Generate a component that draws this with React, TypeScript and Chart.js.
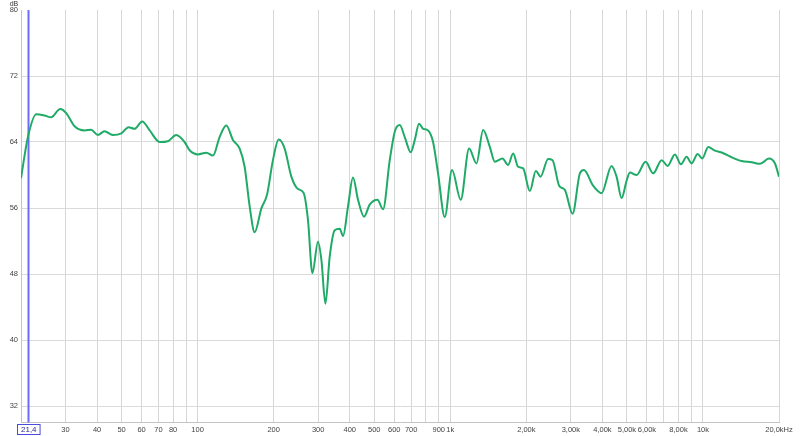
import React, { useEffect, useRef } from 'react';
import { Chart, registerables } from 'chart.js';

Chart.register(...registerables);

// Frequency (Hz) of each traced point
const freqs = [
  20, 21.3, 23.0, 24.8, 26.3, 28.6, 30.2, 32.6, 35.7, 37.9,
  40.3, 42.8, 46.2, 49.9, 53.3, 56.3, 60.4, 64.5, 70.7, 76.3,
  82.3, 88.8, 93.0, 100.3, 108.3, 115, 122.2, 129.9, 138, 146.7,
  153.5, 160.7, 168.2, 178.8, 188.2, 198.7, 209.3, 221.1, 235, 249.6,
  263, 273.4, 284.7, 299.5, 309, 320.5, 333.3, 348.8, 365.1, 376.2,
  393.8, 412.1, 431.4, 455.6, 480, 514.9, 541.9, 576, 602.9, 631,
  660.4, 697.7, 723.6, 752.5, 780.5, 816.8, 854.9, 894.7, 951.1, 1016,
  1100, 1187, 1270, 1349, 1434, 1501, 1610, 1694, 1773, 1856,
  1943, 2065, 2181, 2276, 2439, 2540, 2697, 2841, 3048, 3258,
  3379, 3678, 3970, 4349, 4552, 4764, 4987, 5140, 5463, 5932,
  6356, 6861, 7247, 7746, 8182, 8618, 9019, 9528, 9936, 10495,
  11156, 11924, 12992, 14230, 15590, 16820, 18250, 19280, 20000,
];

// SPL (dB) of each traced point
const spl = [
  59.6, 64.6, 67.35, 67.2, 67.0, 68.0, 67.5, 65.9, 65.4, 65.5,
  64.85, 65.3, 64.85, 65.05, 65.8, 65.6, 66.5, 65.45, 64.0, 64.1,
  64.85, 64.0, 63.0, 62.5, 62.7, 62.35, 64.6, 66.0, 64.25, 63.2,
  61.0, 56.2, 53.05, 55.95, 57.6, 61.8, 64.3, 63.2, 59.8, 58.3,
  57.8, 54.55, 48.1, 51.9, 49.7, 44.4, 50.1, 53.3, 53.5, 52.6,
  56.2, 59.7, 57.0, 54.95, 56.4, 57.0, 55.85, 61.8, 65.25, 66.05,
  64.6, 62.75, 64.25, 66.2, 65.6, 65.4, 64.0, 60.2, 54.9, 60.6,
  57.0, 63.2, 61.4, 65.45, 63.4, 61.6, 62.0, 61.2, 62.6, 61.0,
  60.8, 58.05, 60.5, 59.8, 61.95, 61.8, 58.7, 58.2, 55.3, 60.2,
  60.6, 58.7, 57.8, 61.1, 59.8, 57.2, 59.3, 60.3, 60.0, 61.6,
  60.2, 61.8, 61.1, 62.5, 61.3, 62.2, 61.4, 62.55, 62.0, 63.4,
  62.95, 62.7, 62.15, 61.7, 61.55, 61.35, 62.0, 61.4, 59.8,
];

// Vertical grid line positions (Hz)
const gridFreqs = [
  20, 30, 40, 50, 60, 70, 80, 90,
  100, 200, 300, 400, 500, 600, 700, 800, 900,
  1000, 2000, 3000, 4000, 5000, 6000, 7000, 8000, 9000,
  10000, 20000,
];

// Labelled x ticks
const xTickValues = [30, 40, 50, 60, 70, 80, 100, 200, 300, 400, 500, 600, 700, 900, 1000, 2000, 3000, 4000, 5000, 6000, 8000, 10000, 20000];
const xTickLabels = ['30', '40', '50', '60', '70', '80', '100', '200', '300', '400', '500', '600', '700', '900', '1k', '2,00k', '3,00k', '4,00k', '5,00k', '6,00k', '8,00k', '10k', '20,0kHz'];

// Y ticks (dB)
const yTicks = [32, 40, 48, 56, 64, 72, 80];

const cursorFreq = 21.4;
const cursorLabel = '21,4';
const unitLabel = 'dB';

const FONT = '"Liberation Sans", Arial, sans-serif';

export default function App() {
  const ref = useRef<HTMLCanvasElement | null>(null);

  useEffect(() => {
    if (!ref.current) return;
    const overlay = {
      id: 'overlay',
      beforeDatasetsDraw(chart: any) {
        const { ctx, chartArea, scales } = chart;
        const x = Math.round(scales.x.getPixelForValue(cursorFreq)) + 0.5;
        ctx.save();
        ctx.strokeStyle = '#6b6bff';
        ctx.lineWidth = 2;
        ctx.beginPath();
        ctx.moveTo(x, chartArea.top);
        ctx.lineTo(x, chartArea.bottom);
        ctx.stroke();
        ctx.restore();
      },
      afterDraw(chart: any) {
        const { ctx, chartArea, scales } = chart;
        const x = scales.x.getPixelForValue(cursorFreq);
        ctx.save();
        ctx.font = '8px ' + FONT;
        const w = ctx.measureText(cursorLabel).width + 7;
        const bx = Math.round(x - w / 2) + 0.5;
        const by = Math.round(chartArea.bottom + 1) + 0.5;
        ctx.fillStyle = '#ffffff';
        ctx.fillRect(bx, by, w, 10);
        ctx.strokeStyle = '#4a4ae0';
        ctx.lineWidth = 1;
        ctx.strokeRect(bx, by, w, 10);
        ctx.fillStyle = '#2a2a90';
        ctx.textAlign = 'center';
        ctx.textBaseline = 'middle';
        ctx.fillText(cursorLabel, bx + w / 2, by + 5.5);
        ctx.font = '7px ' + FONT;
        ctx.fillStyle = '#333';
        ctx.fillText(unitLabel, 14, 4);
        ctx.restore();
      },
    };

    const chart = new Chart(ref.current, {
      type: 'line',
      data: {
        datasets: [
          {
            data: freqs.map((f, i) => ({ x: f, y: spl[i] })),
            borderColor: '#1fab67',
            borderWidth: 2,
            pointRadius: 0,
            cubicInterpolationMode: 'monotone',
            fill: false,
          },
        ],
      },
      options: {
        animation: false,
        responsive: false,
        maintainAspectRatio: false,
        devicePixelRatio: 1,
        layout: { padding: { left: 0, top: 10, right: 21, bottom: 0 } },
        plugins: {
          legend: { display: false },
          tooltip: { enabled: false },
        },
        scales: {
          x: {
            type: 'logarithmic',
            min: 20,
            max: 20000,
            afterBuildTicks: (scale: any) => {
              scale.ticks = gridFreqs.map((v) => ({ value: v }));
            },
            afterFit: (scale: any) => {
              scale.height = 13.5;
            },
            ticks: {
              autoSkip: false,
              maxRotation: 0,
              minRotation: 0,
              padding: 3,
              color: '#444',
              font: { family: FONT, size: 7.5 },
              callback: (value: any) => {
                const idx = xTickValues.indexOf(Number(value));
                return idx >= 0 ? xTickLabels[idx] : '';
              },
            },
            grid: {
              color: '#d6d6d6',
              lineWidth: 1,
              drawTicks: false,
            },
            border: { display: true, color: '#c4c4c4' },
          },
          y: {
            type: 'linear',
            min: 30,
            max: 80,
            afterBuildTicks: (scale: any) => {
              scale.ticks = yTicks.map((v) => ({ value: v }));
            },
            afterFit: (scale: any) => {
              scale.width = 21;
            },
            ticks: {
              padding: 3,
              color: '#444',
              font: { family: FONT, size: 7.5 },
              callback: (value: any) => String(value),
            },
            grid: {
              color: (c: any) => (c.tick && c.tick.value === 80 ? 'rgba(0,0,0,0)' : '#dadada'),
              lineWidth: 1,
              drawTicks: false,
            },
            border: { display: true, color: '#c4c4c4' },
          },
        },
      },
      plugins: [overlay],
    } as any);

    return () => chart.destroy();
  }, []);

  return (
    <div style={{ position: 'absolute', left: 0, top: 0, width: 800, height: 436, background: '#fff' }}>
      <canvas ref={ref} width={800} height={436} />
    </div>
  );
}
